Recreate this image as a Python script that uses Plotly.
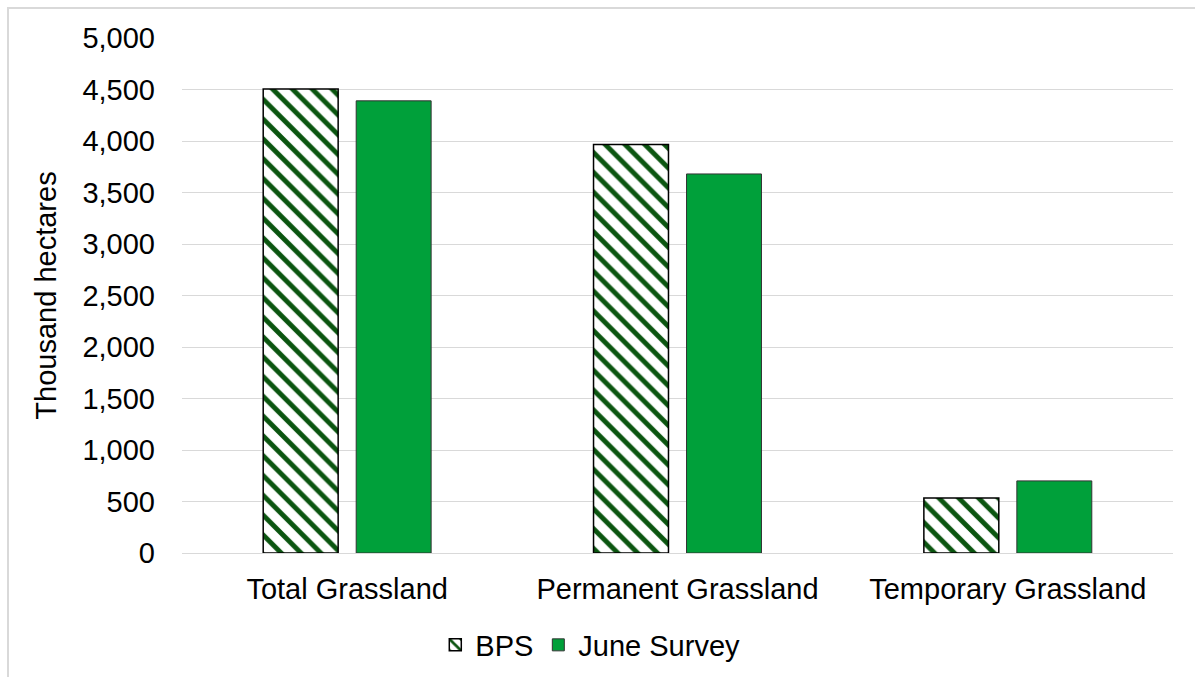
import plotly.graph_objects as go

categories = ["Total Grassland", "Permanent Grassland", "Temporary Grassland"]
bps_values = [4505, 3965, 535]
june_values = [4390, 3680, 700]
y_ticks = [0, 500, 1000, 1500, 2000, 2500, 3000, 3500, 4000, 4500, 5000]

FONT = "Liberation Sans, Arial, sans-serif"
FS = 29
W, H = 1195, 677
ML, MR, MT, MB = 182, 22, 38, 124
PW, PH = W - ML - MR, H - MT - MB

fig = go.Figure()
fig.add_trace(go.Bar(
    name="BPS", x=categories, y=bps_values,
    marker=dict(
        color="white",
        pattern=dict(shape="\\", fgcolor="#0b5510", bgcolor="white",
                     size=14, solidity=0.35, fillmode="replace", fgopacity=1),
        line=dict(color="black", width=1.5),
    ),
))
fig.add_trace(go.Bar(
    name="June Survey", x=categories, y=june_values,
    marker=dict(color="#00a03a", line=dict(color="#333333", width=1)),
))

# outer chart frame
fig.add_shape(type="rect", xref="paper", yref="paper",
              x0=(8 - ML) / PW, x1=1.2, y0=-0.4, y1=1 + (MT - 8) / PH,
              line=dict(color="#d9d9d9", width=2), fillcolor="rgba(0,0,0,0)",
              layer="below")

fig.update_layout(
    width=W, height=H,
    margin=dict(l=ML, r=MR, t=MT, b=MB, autoexpand=False),
    paper_bgcolor="white", plot_bgcolor="white",
    barmode="group", bargap=0.437, bargroupgap=0.194,
    font=dict(family=FONT, size=FS, color="#000000"),
    showlegend=True,
    legend=dict(orientation="h", x=0.412, xanchor="center",
                yref="container", y=1 - 645 / H, yanchor="middle",
                font=dict(family=FONT, size=FS), itemwidth=30,
                traceorder="normal"),
    xaxis=dict(showgrid=False, showline=False, ticks="", tickfont=dict(size=FS),
               ticklabelstandoff=16, automargin=False),
    yaxis=dict(range=[0, 5000], tickvals=y_ticks,
               ticktext=[f"{v:,}" for v in y_ticks],
               showgrid=True, gridcolor="#d9d9d9", gridwidth=1,
               zeroline=True, zerolinecolor="#d9d9d9", zerolinewidth=1,
               showline=False, ticks="", tickfont=dict(size=FS),
               ticklabelstandoff=26, automargin=False,
               title=dict(text="Thousand hectares", font=dict(size=FS), standoff=17)),
)

fig.write_html("out.html")
